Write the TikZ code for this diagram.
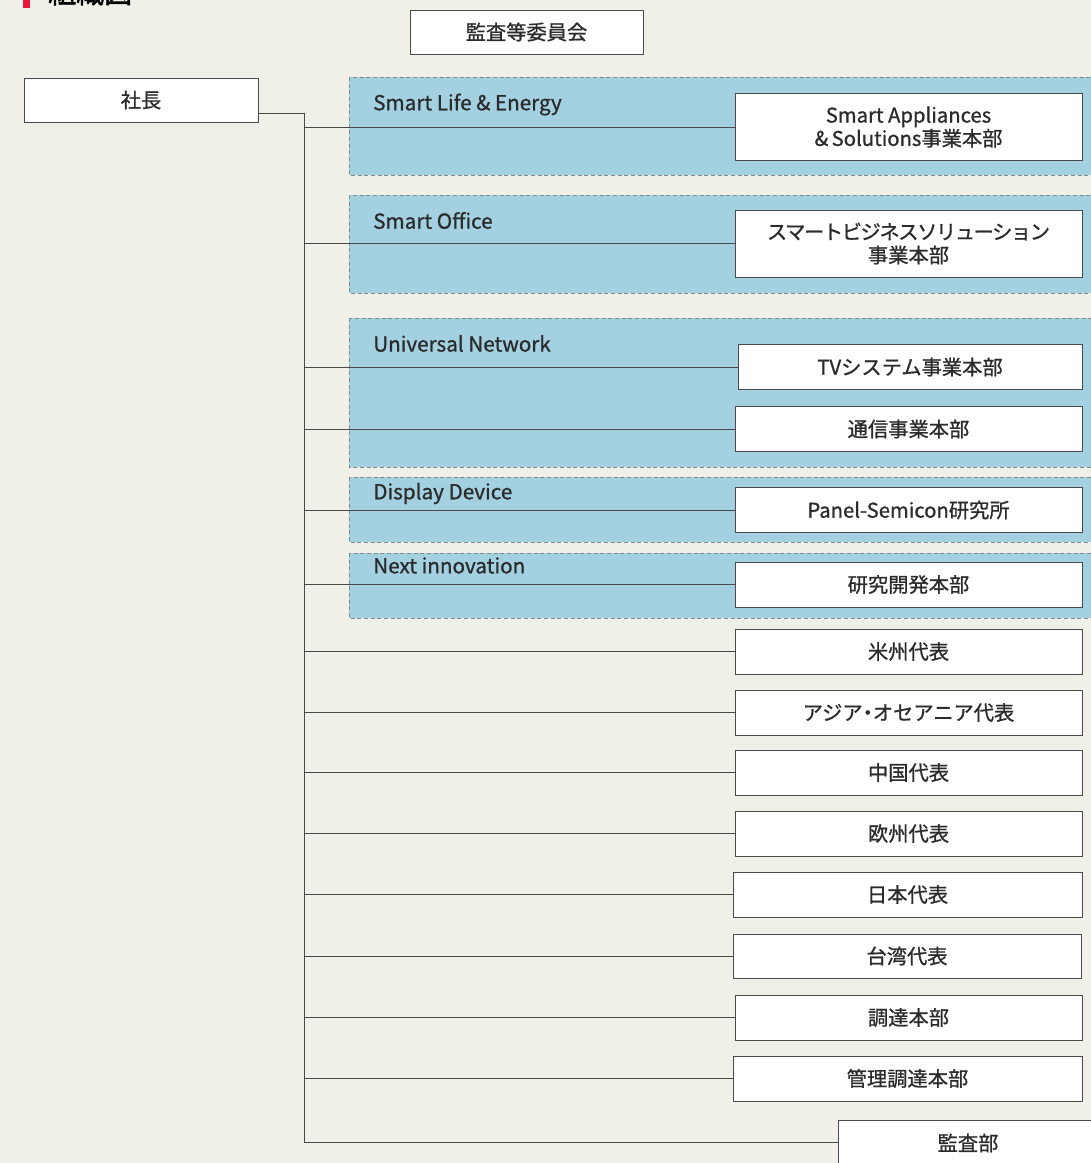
\documentclass[tikz,border=0pt]{standalone}
\usepackage{fontspec}
\setmainfont{Noto Sans CJK JP}[FakeBold=0.9]
\newfontfamily\titlefont{Noto Sans CJK JP}[FakeBold=2]
\definecolor{bg}{HTML}{F1F0E8}
\definecolor{grp}{HTML}{A3D1E1}
\definecolor{grpline}{HTML}{7D8A8F}
\definecolor{boxline}{HTML}{4A4A4A}
\definecolor{txt}{HTML}{2B2B2B}
\definecolor{titlered}{HTML}{E8173A}
\begin{document}
\begin{tikzpicture}[x=0.75pt,y=-0.75pt,
  unitbox/.style={draw=boxline,fill=white,line width=0.65pt,inner sep=0pt,align=center,
     font=\fontsize{15.2pt}{17.5pt}\selectfont,text=txt},
  group/.style={draw=grpline,fill=grp,line width=0.6pt,dash pattern=on 3pt off 2pt},
  glabel/.style={anchor=west,inner sep=0pt,font=\fontsize{15.5pt}{18pt}\selectfont,text=txt},
  conn/.style={draw=boxline,line width=0.7pt}]
\useasboundingbox (0,0) rectangle (1091,1163);
\clip (0,0) rectangle (1091,1163);
\fill[bg] (0,0) rectangle (1091,1163);
% title (cut off at top)
\fill[titlered] (23,-20) rectangle (30,8);
\node[anchor=base west,inner sep=0pt,font=\titlefont\fontsize{21pt}{24pt}\selectfont] (title) at (48,3) {組織図};
% groups
\draw[group] (349,77) rectangle (1095,175);
\draw[group] (349,195) rectangle (1095,293);
\draw[group] (349,318) rectangle (1095,467);
\draw[group] (349,477) rectangle (1095,542);
\draw[group] (349,553) rectangle (1095,618);
\node[glabel] (g1) at (373,104.5) {Smart Life \& Energy};
\node[glabel] (g2) at (373,220.5) {Smart Office};
\node[glabel] (g3) at (373,343.5) {Universal Network};
\node[glabel] (g4) at (373,493.5) {Display Device};
\node[glabel] (g5) at (373,565.5) {Next innovation};
% top boxes
\node[unitbox,minimum width=233*0.75pt,minimum height=44*0.75pt] (audit) at (526.5,32) {監査等委員会};
\node[unitbox,minimum width=234*0.75pt,minimum height=44*0.75pt] (ceo) at (141,100) {社長};
% trunk
\coordinate (trunktop) at (304,113);
\coordinate (trunkbot) at (304,1142);
% unit boxes
\node[unitbox,minimum width=347*0.75pt,minimum height=67*0.75pt] (sa) at (908.5,127) {Smart Appliances\\\&\,Solutions事業本部};
\node[unitbox,minimum width=347*0.75pt,minimum height=67*0.75pt] (sb) at (908.5,243.5) {{\addfontfeature{LetterSpace=-7}スマートビジネスソリューション}\\事業本部};
\node[unitbox,minimum width=344*0.75pt,minimum height=45*0.75pt] (tv) at (910,367) {TVシステム事業本部};
\node[unitbox,minimum width=347*0.75pt,minimum height=45*0.75pt] (comm) at (908.5,429) {通信事業本部};
\node[unitbox,minimum width=347*0.75pt,minimum height=45*0.75pt] (panel) at (908.5,510) {Panel-Semicon研究所};
\node[unitbox,minimum width=347*0.75pt,minimum height=45*0.75pt] (rd) at (908.5,584.5) {研究開発本部};
\node[unitbox,minimum width=347*0.75pt,minimum height=45*0.75pt] (us) at (908.5,651.5) {米州代表};
\node[unitbox,minimum width=347*0.75pt,minimum height=45*0.75pt] (asia) at (908.5,712.5) {アジア{\kern-0.25em}・{\kern-0.25em}オセアニア代表};
\node[unitbox,minimum width=347*0.75pt,minimum height=45*0.75pt] (cn) at (908.5,772.5) {中国代表};
\node[unitbox,minimum width=347*0.75pt,minimum height=45*0.75pt] (eu) at (908.5,833.5) {欧州代表};
\node[unitbox,minimum width=349*0.75pt,minimum height=45*0.75pt] (jp) at (907.5,894.5) {日本代表};
\node[unitbox,minimum width=348*0.75pt,minimum height=44*0.75pt] (tw) at (907,956) {台湾代表};
\node[unitbox,minimum width=347*0.75pt,minimum height=45*0.75pt] (proc) at (908.5,1017.5) {調達本部};
\node[unitbox,minimum width=349*0.75pt,minimum height=45*0.75pt] (mproc) at (907.5,1078.5) {管理調達本部};
\node[unitbox,minimum width=260*0.75pt,minimum height=46*0.75pt] (iaud) at (968,1143) {監査部};
% connectors
\draw[conn] (ceo.east |- trunktop) -- (trunktop) -- (trunkbot) -- (iaud.west |- trunkbot);
\foreach \n in {sa,sb,tv,comm,panel,rd,us,asia,cn,eu,jp,tw,proc,mproc}{
  \draw[conn] (trunktop |- \n.west) -- (\n.west);
}
\end{tikzpicture}
\end{document}
